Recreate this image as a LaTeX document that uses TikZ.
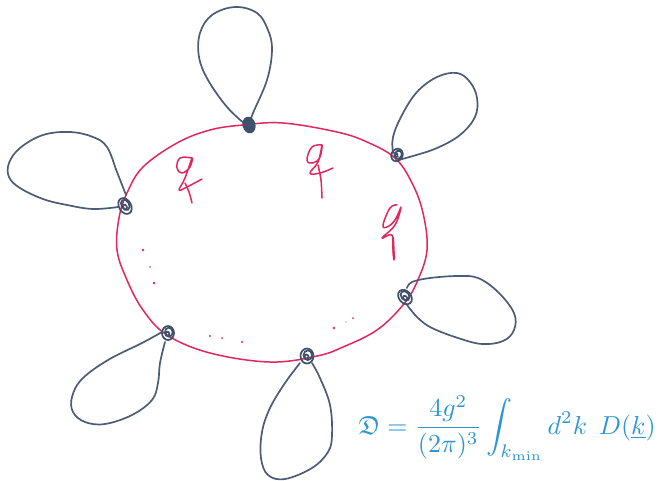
\documentclass[tikz,border=0pt]{standalone}
\usepackage{amsmath,amssymb}
\definecolor{ink}{RGB}{226,38,94}
\definecolor{slate}{RGB}{76,92,118}
\definecolor{knotc}{RGB}{62,80,106}
\definecolor{eqc}{RGB}{45,150,210}
\tikzset{
  redline/.style={draw=ink,line width=1.5pt,line cap=round,line join=round},
  loopline/.style={draw=slate,line width=1.7pt,line cap=round,line join=round},
  knotline/.style={draw=knotc,line width=1.7pt},
  speck/.style={fill=ink,draw=none}
}
\newcommand{\knotat}[4]{%
  \draw[knotline,rotate around={#2:(#1)}] (#1) ellipse (#3 and #4);
  \draw[knotline,rotate around={#2:(#1)}] ([shift={(0.8,-0.8)}]#1) ellipse (0.65*#3 and 0.65*#4);
  \draw[knotline,rotate around={#2:(#1)}] ([shift={(-0.5,0.8)}]#1) ellipse (0.3*#3 and 0.3*#4);
}
\begin{document}
\begin{tikzpicture}[x=1pt,y=-1pt]
\useasboundingbox (0,0) rectangle (659,480);
\coordinate (vtop) at (249,125);
\coordinate (vtr) at (397,155);
\coordinate (vr) at (405,297);
\coordinate (vb) at (307,356);
\coordinate (vbl) at (168,333);
\coordinate (vl) at (125,206);
% ring
\draw[redline] plot[smooth cycle,tension=0.62] coordinates {
 (243,125) (283,123) (337,132) (367,142) (395,158) (412,183) (423,213) (427,250)
 (417,282) (403,305) (377,330) (343,347) (317,356) (270,362) (210,353) (167,335) (143,310)
 (127,280) (117,250) (119,218) (127,193) (143,167) (177,143) (210,130)};
% loops
\draw[loopline] plot[smooth,tension=0.62] coordinates {
 (245,124) (227,107) (208,80) (199,57) (200,33) (212,15) (235,7) (257,13) (268,30) (272,50) (267,80) (253,113) (250,122)};
\draw[loopline] plot[smooth,tension=0.62] coordinates {
 (393,153) (393,137) (402,115) (417,92) (437,77) (457,73) (470,82) (477,98) (475,117) (460,135) (437,148) (413,156) (398,160)};
\draw[loopline] plot[smooth,tension=0.62] coordinates {
 (126,195) (117,172) (107,147) (93,137) (70,132) (43,135) (20,148) (9,163) (9,177) (20,188) (43,199) (67,205) (93,209) (118,207)};
\draw[loopline] plot[smooth,tension=0.62] coordinates {
 (407,288) (412,282) (430,278) (458,276) (478,278) (498,292) (514,313) (514,330) (503,341) (482,344) (458,338) (432,328) (418,318) (407,305)};
\draw[loopline] plot[smooth,tension=0.62] coordinates {
 (300,363) (285,383) (270,408) (262,432) (261,458) (268,475) (285,479) (312,468) (328,452) (332,435) (330,405) (320,378) (312,363)};
\draw[loopline] plot[smooth,tension=0.62] coordinates {
 (162,332) (142,343) (108,360) (82,379) (72,397) (73,412) (85,422) (105,424) (132,415) (152,400) (158,383) (160,363) (165,342)};
% knots
\fill[knotc,rotate around={15:(vtop)}] (vtop) ellipse (6.5 and 8.5);
\fill[speck] (vtop) circle (0.7);
\knotat{vtr}{-30}{5.5}{6.5}
\knotat{vr}{40}{6}{8}
\knotat{vb}{0}{6.5}{7.5}
\knotat{vbl}{0}{6}{7}
\knotat{vl}{30}{6}{8.5}
% g letters
\draw[redline] plot[smooth,tension=0.7] coordinates {
 (192,158) (180,158) (177,168) (182,173) (190,167) (192,158) (185,178) (179,190) (185,188) (202,179)};
\draw[redline] plot[smooth,tension=0.5] coordinates {(185,183) (189,192) (192,203)};
\draw[redline] plot[smooth,tension=0.7] coordinates {
 (322,145) (312,147) (307,160) (313,163) (320,157) (322,145) (318,162) (310,173) (320,173) (333,168)};
\draw[redline] plot[smooth,tension=0.5] coordinates {(318,165) (321,180) (322,198)};
\draw[redline] plot[smooth,tension=0.7] coordinates {
 (397,205) (390,208) (383,225) (387,227) (395,220) (401,207) (395,225) (382,238) (392,235) (393,250) (394,260)};
\draw[redline,line width=2.2pt] (393,238) -- (394,259);
% dots
\fill[speck] (143,250) circle (1.3);
\fill[speck] (150,267) circle (0.9);
\fill[speck] (154,283) circle (1.4);
\fill[speck] (210,336) circle (1.1);
\fill[speck] (222,338) circle (1);
\fill[speck] (242,342) circle (1.1);
\fill[speck] (334,328) circle (1.4);
\fill[speck] (346,322) circle (0.6);
\fill[speck] (353,318) circle (1);
\node[text=eqc,anchor=west,inner sep=0pt,scale=2.6] (eq) at (358,428)
  {$\mathfrak{D}=\dfrac{4g^2}{(2\pi)^3}\displaystyle\int_{k_{\min}} d^2k\;\,D(\underline{k})$};
\end{tikzpicture}
\end{document}
